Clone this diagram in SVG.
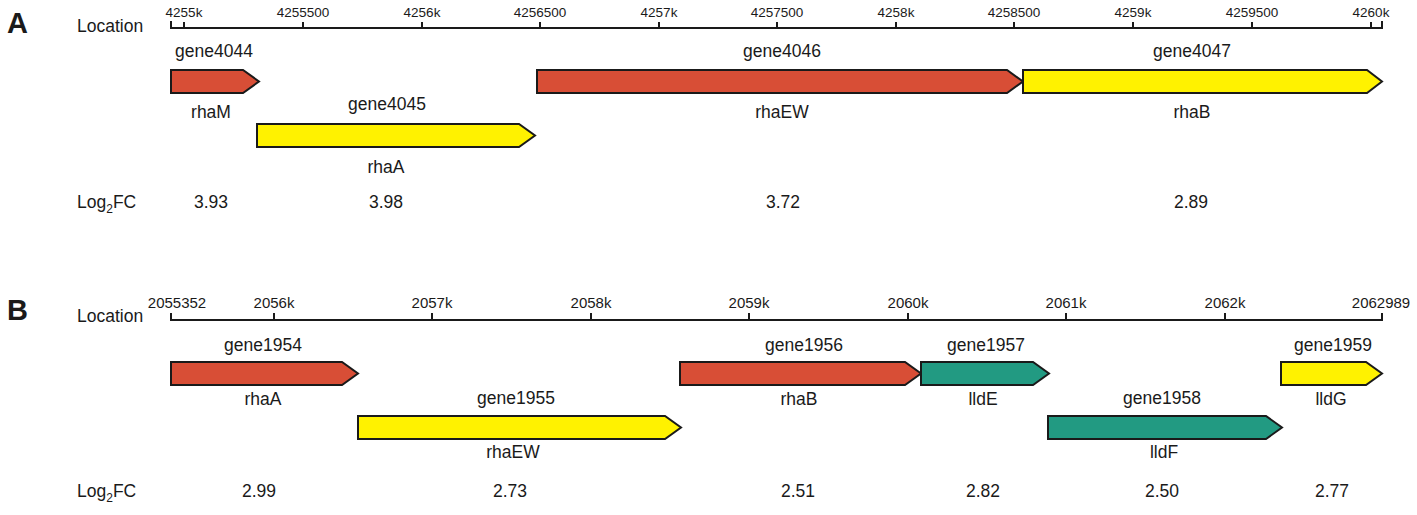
<svg xmlns="http://www.w3.org/2000/svg" width="1417" height="515" viewBox="0 0 1417 515">
<style>
text{font-family:"Liberation Sans",Arial,sans-serif;fill:#1a1a1a}
.lbl{font-size:17.5px;text-anchor:middle}
.row{font-size:17.5px}
.tk{font-size:13.5px;text-anchor:middle}
.tkb{font-size:15px;text-anchor:middle}
.pan{font-size:29px;font-weight:bold}
.axis{stroke:#1a1a1a;stroke-width:2;fill:none}
.g{stroke:#1a1a1a;stroke-width:2;stroke-linejoin:miter}
.red{fill:#D84E36}
.yel{fill:#FFF200}
.teal{fill:#229A82}
</style>
<rect width="1417" height="515" fill="#fff"/>

<!-- Panel A -->
<g id="panelA-labels">
<text class="pan" x="7" y="33">A</text>
<text class="row" x="77" y="32">Location</text>
<text class="row" x="77" y="208">Log<tspan font-size="12" dy="5">2</tspan><tspan dy="-5">FC</tspan></text>
</g>
<g id="axisA">
<path class="axis" d="M171,21V28H1382V21M184,28V22M303,28V22M422,28V22M540,28V22M659,28V22M777,28V22M896,28V22M1014,28V22M1133,28V22M1252,28V22M1371,28V22"/>
<text class="tk" x="184" y="17">4255k</text>
<text class="tk" x="303" y="17">4255500</text>
<text class="tk" x="422" y="17">4256k</text>
<text class="tk" x="540" y="17">4256500</text>
<text class="tk" x="659" y="17">4257k</text>
<text class="tk" x="777" y="17">4257500</text>
<text class="tk" x="896" y="17">4258k</text>
<text class="tk" x="1014" y="17">4258500</text>
<text class="tk" x="1133" y="17">4259k</text>
<text class="tk" x="1252" y="17">4259500</text>
<text class="tk" x="1371" y="17">4260k</text>
</g>
<g id="gene4044">
<path class="g red" d="M171,70H243L259,81.5L243,93H171Z"/>
<text class="lbl" x="214" y="57">gene4044</text>
<text class="lbl" x="211" y="118">rhaM</text>
<text class="lbl" x="211" y="208">3.93</text>
</g>
<g id="gene4045">
<path class="g yel" d="M257,124H519L535,135.5L519,147H257Z"/>
<text class="lbl" x="387" y="110">gene4045</text>
<text class="lbl" x="386" y="173">rhaA</text>
<text class="lbl" x="386" y="208">3.98</text>
</g>
<g id="gene4046">
<path class="g red" d="M537,70H1007L1023,81.5L1007,93H537Z"/>
<text class="lbl" x="782" y="57">gene4046</text>
<text class="lbl" x="782" y="118">rhaEW</text>
<text class="lbl" x="783" y="208">3.72</text>
</g>
<g id="gene4047">
<path class="g yel" d="M1023,70H1367L1382,81.5L1367,93H1023Z"/>
<text class="lbl" x="1192" y="57">gene4047</text>
<text class="lbl" x="1192" y="118">rhaB</text>
<text class="lbl" x="1191" y="208">2.89</text>
</g>

<!-- Panel B -->
<g id="panelB-labels">
<text class="pan" x="7" y="320">B</text>
<text class="row" x="77" y="322">Location</text>
<text class="row" x="77" y="497">Log<tspan font-size="12" dy="5">2</tspan><tspan dy="-5">FC</tspan></text>
</g>
<g id="axisB">
<path class="axis" d="M171,313V320H1382V313M274,320V313M432,320V313M591,320V313M749,320V313M908,320V313M1066,320V313M1225,320V313"/>
<text class="tkb" x="177" y="308">2055352</text>
<text class="tkb" x="274" y="308">2056k</text>
<text class="tkb" x="432" y="308">2057k</text>
<text class="tkb" x="591" y="308">2058k</text>
<text class="tkb" x="749" y="308">2059k</text>
<text class="tkb" x="908" y="308">2060k</text>
<text class="tkb" x="1066" y="308">2061k</text>
<text class="tkb" x="1225" y="308">2062k</text>
<text class="tkb" x="1381" y="308">2062989</text>
</g>
<g id="gene1954">
<path class="g red" d="M171,362H342L358,373.5L342,385H171Z"/>
<text class="lbl" x="263" y="351">gene1954</text>
<text class="lbl" x="263" y="405">rhaA</text>
<text class="lbl" x="259" y="497">2.99</text>
</g>
<g id="gene1955">
<path class="g yel" d="M358,416H665L681,427.5L665,439H358Z"/>
<text class="lbl" x="516" y="404">gene1955</text>
<text class="lbl" x="513" y="458">rhaEW</text>
<text class="lbl" x="510" y="497">2.73</text>
</g>
<g id="gene1956">
<path class="g red" d="M680,362H905L921,373.5L905,385H680Z"/>
<text class="lbl" x="804" y="351">gene1956</text>
<text class="lbl" x="799" y="405">rhaB</text>
<text class="lbl" x="798" y="497">2.51</text>
</g>
<g id="gene1957">
<path class="g teal" d="M921,362H1033L1049,373.5L1033,385H921Z"/>
<text class="lbl" x="986" y="351">gene1957</text>
<text class="lbl" x="983" y="405">lldE</text>
<text class="lbl" x="983" y="497">2.82</text>
</g>
<g id="gene1958">
<path class="g teal" d="M1048,416H1266L1282,427.5L1266,439H1048Z"/>
<text class="lbl" x="1162" y="404">gene1958</text>
<text class="lbl" x="1164" y="458">lldF</text>
<text class="lbl" x="1162" y="497">2.50</text>
</g>
<g id="gene1959">
<path class="g yel" d="M1281,362H1366L1382,373.5L1366,385H1281Z"/>
<text class="lbl" x="1333" y="351">gene1959</text>
<text class="lbl" x="1331" y="405">lldG</text>
<text class="lbl" x="1332" y="497">2.77</text>
</g>
<g id="connectors"></g>
</svg>
